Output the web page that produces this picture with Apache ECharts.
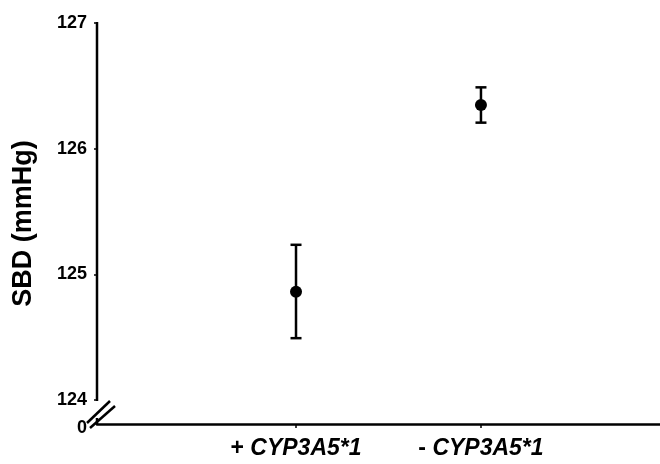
<!DOCTYPE html>
<html><head><meta charset="utf-8">
<script src="https://cdn.jsdelivr.net/npm/echarts@6/dist/echarts.min.js"></script>
<style>html,body{margin:0;padding:0;background:#fff}#c{width:660px;height:464px}</style>
</head><body><div id="c"></div>
<script>
const categories = ['+ ', '- '];
const geneName = 'CYP3A5*1';
const xPositions = [1, 2];
const means = [124.862, 126.347];
const upper = [125.235, 126.488];
const lower = [124.492, 126.207];
const yTicks = [124, 125, 126, 127];
const brokenZeroLabel = '0';

const X_MIN = -0.076, X_MAX = 2.968;
const Y_MIN = 123.809, Y_MAX = 127;
const FONT = '"Liberation Sans", Arial, Helvetica, sans-serif';

const chart = echarts.init(document.getElementById('c'));
chart.setOption({
  animation: false,
  backgroundColor: '#fff',
  grid: { left: 97, right: 0, top: 23, bottom: 40, containLabel: false },
  xAxis: {
    type: 'value', min: X_MIN, max: X_MAX,
    splitLine: { show: false },
    axisLine: { show: true, onZero: false, lineStyle: { color: '#000', width: 2.5 } },
    axisTick: { show: true, customValues: xPositions, length: 4, lineStyle: { color: '#000', width: 1.5 } },
    axisLabel: {
      customValues: xPositions, margin: 13,
      formatter: function (v) {
        const i = xPositions.indexOf(v);
        return i < 0 ? '' : '{n|' + categories[i] + '}{i|' + geneName + '}';
      },
      rich: {
        n: { fontFamily: FONT, fontWeight: 'bold', fontSize: 23, color: '#000' },
        i: { fontFamily: FONT, fontWeight: 'bold', fontStyle: 'italic', fontSize: 23, color: '#000' }
      }
    }
  },
  yAxis: {
    type: 'value', min: Y_MIN, max: Y_MAX,
    name: 'SBD (mmHg)', nameLocation: 'middle', nameGap: 60,
    nameTextStyle: { fontFamily: FONT, fontWeight: 'bold', fontSize: 27, color: '#000' },
    splitLine: { show: false },
    axisLine: { show: false, onZero: false },
    axisTick: { show: true, customValues: yTicks, length: 3, lineStyle: { color: '#000', width: 1.5 } },
    axisLabel: {
      customValues: [Y_MIN].concat(yTicks), margin: 10,
      fontFamily: FONT, fontWeight: 'bold', fontSize: 18, color: '#000',
      formatter: function (v) { return v < yTicks[0] ? '{z|' + brokenZeroLabel + '}' : String(v); },
      rich: { z: { fontFamily: FONT, fontWeight: 'bold', fontSize: 18, color: '#000', padding: [8, 0, 0, 0] } }
    }
  },
  series: [
    {
      type: 'custom', silent: true, z: 3,
      data: [[X_MIN, Y_MIN]],
      renderItem: function (params, api) {
        const top = api.coord([X_MIN, Y_MAX]);
        const t124 = api.coord([X_MIN, yTicks[0]]);
        const bot = api.coord([X_MIN, Y_MIN]);
        const x = top[0];
        const st = { stroke: '#000', lineWidth: 2.5 };
        return { type: 'group', children: [
          { type: 'line', shape: { x1: x, y1: top[1] - 1, x2: x, y2: t124[1] + 1 }, style: st },
          { type: 'line', shape: { x1: x, y1: bot[1] - 6, x2: x, y2: bot[1] + 1 }, style: st },
          { type: 'line', shape: { x1: x - 10, y1: bot[1] - 1, x2: x + 13, y2: bot[1] - 23 }, style: st },
          { type: 'line', shape: { x1: x - 7, y1: bot[1] + 4, x2: x + 18, y2: bot[1] - 18 }, style: st }
        ]};
      }
    },
    {
      type: 'custom', silent: true, z: 4,
      data: xPositions.map((x, i) => [x, lower[i], upper[i]]),
      renderItem: function (params, api) {
        const lo = api.coord([api.value(0), api.value(1)]);
        const hi = api.coord([api.value(0), api.value(2)]);
        const w = 5.5;
        const st = { stroke: '#000', lineWidth: 2.5 };
        return { type: 'group', children: [
          { type: 'line', shape: { x1: lo[0], y1: lo[1], x2: hi[0], y2: hi[1] }, style: st },
          { type: 'line', shape: { x1: lo[0] - w, y1: lo[1], x2: lo[0] + w, y2: lo[1] }, style: st },
          { type: 'line', shape: { x1: hi[0] - w, y1: hi[1], x2: hi[0] + w, y2: hi[1] }, style: st }
        ]};
      }
    },
    {
      type: 'scatter', z: 5, symbol: 'circle', symbolSize: 12,
      itemStyle: { color: '#000', opacity: 1 },
      data: xPositions.map((x, i) => [x, means[i]])
    }
  ]
});
</script></body></html>
